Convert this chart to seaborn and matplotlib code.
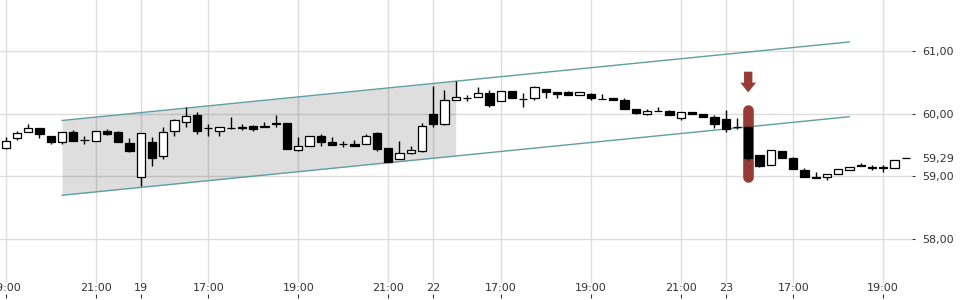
import numpy as np
import pandas as pd
import matplotlib
matplotlib.use("Agg")
import matplotlib.pyplot as plt
import matplotlib.transforms as mtransforms
from matplotlib.ticker import FuncFormatter
import seaborn as sns

# ---------------- data ----------------
# trading sessions: date, first 15-min bar, number of bars
session_dates = ["2024-04-18", "2024-04-19", "2024-04-22", "2024-04-23"]
session_starts = ["19:00", "15:30", "15:30", "15:30"]
session_bars = [12, 26, 26, 17]

opens = [59.45, 59.61, 59.70, 59.77, 59.65, 59.54, 59.70, 59.58, 59.57, 59.73,
         59.71, 59.53, 58.99, 59.55, 59.32, 59.73, 59.86, 59.97, 59.77, 59.73,
         59.77, 59.78, 59.80, 59.78, 59.85, 59.85, 59.42, 59.48, 59.65, 59.54,
         59.52, 59.52, 59.51, 59.69, 59.45, 59.27, 59.38, 59.40, 59.99, 59.84,
         60.21, 60.25, 60.26, 60.32, 60.20, 60.36, 60.23, 60.24, 60.39, 60.34,
         60.34, 60.29, 60.31, 60.23, 60.24, 60.21, 60.08, 60.00, 60.04, 60.04,
         59.93, 60.03, 59.99, 59.95, 59.91, 59.78, 59.79, 59.34, 59.18, 59.41,
         59.29, 59.10, 58.99, 58.99, 59.04, 59.10, 59.18, 59.15, 59.15, 59.14,
         59.29]
highs = [59.62, 59.72, 59.83, 59.77, 59.65, 59.70, 59.74, 59.65, 59.73, 59.75,
         59.72, 59.61, 59.69, 59.63, 59.78, 59.92, 60.10, 60.02, 59.84, 59.78,
         59.94, 59.83, 59.82, 59.86, 59.97, 59.85, 59.62, 59.64, 59.67, 59.63,
         59.57, 59.58, 59.68, 59.70, 59.45, 59.56, 59.48, 59.85, 60.44, 60.38,
         60.52, 60.30, 60.42, 60.37, 60.36, 60.36, 60.33, 60.44, 60.39, 60.34,
         60.36, 60.35, 60.32, 60.31, 60.24, 60.24, 60.08, 60.08, 60.10, 60.06,
         60.02, 60.03, 60.00, 59.98, 60.06, 59.93, 59.81, 59.34, 59.42, 59.41,
         59.31, 59.14, 59.07, 59.04, 59.11, 59.15, 59.21, 59.18, 59.18, 59.26,
         59.29]
lows = [59.43, 59.58, 59.70, 59.61, 59.52, 59.52, 59.57, 59.52, 59.57, 59.66,
        59.54, 59.39, 58.85, 59.16, 59.28, 59.65, 59.79, 59.68, 59.65, 59.65,
        59.75, 59.74, 59.73, 59.78, 59.78, 59.44, 59.41, 59.48, 59.49, 59.50,
        59.47, 59.49, 59.51, 59.41, 59.23, 59.27, 59.36, 59.39, 59.78, 59.82,
        60.21, 60.20, 60.26, 60.11, 60.20, 60.24, 60.11, 60.21, 60.24, 60.24,
        60.29, 60.29, 60.21, 60.23, 60.21, 60.08, 60.00, 59.98, 60.04, 59.97,
        59.89, 59.99, 59.95, 59.77, 59.70, 59.75, 59.26, 59.15, 59.18, 59.30,
        59.11, 58.99, 58.97, 58.95, 59.04, 59.10, 59.16, 59.10, 59.07, 59.14,
        59.29]
closes = [59.57, 59.69, 59.77, 59.68, 59.55, 59.70, 59.57, 59.58, 59.73, 59.68,
          59.54, 59.41, 59.69, 59.30, 59.70, 59.89, 59.96, 59.73, 59.77, 59.78,
          59.77, 59.77, 59.76, 59.81, 59.83, 59.44, 59.48, 59.64, 59.54, 59.50,
          59.51, 59.49, 59.65, 59.43, 59.23, 59.38, 59.42, 59.80, 59.84, 60.21,
          60.27, 60.25, 60.32, 60.13, 60.36, 60.24, 60.23, 60.42, 60.35, 60.31,
          60.29, 60.35, 60.24, 60.23, 60.21, 60.08, 60.01, 60.04, 60.04, 59.97,
          60.02, 59.99, 59.95, 59.83, 59.76, 59.78, 59.30, 59.17, 59.42, 59.30,
          59.11, 58.99, 58.97, 59.04, 59.11, 59.15, 59.16, 59.14, 59.13, 59.26,
          59.29]

# trend channel (bar index, price) and shaded part
channel_idx = [5, 75]
channel_upper = [59.89, 61.14]
channel_lower = [58.70, 59.95]
shade_idx = [5, 40]

# signal bar
signal_idx = 66
signal_span = [58.906, 60.147]

y_ticks = [58.0, 59.0, 59.29, 60.0, 61.0]
last_price = 59.29

# ---------------- build frame ----------------
times = pd.DatetimeIndex(np.concatenate([
    pd.date_range(f"{d} {s}", periods=n, freq="15min").values
    for d, s, n in zip(session_dates, session_starts, session_bars)]))
df = pd.DataFrame({"time": times, "open": opens, "high": highs,
                   "low": lows, "close": closes})
df["i"] = np.arange(len(df))

tick_pos, tick_lab = [], []
for i, t in zip(df["i"], df["time"]):
    if t.hour == 15 and t.minute == 30:
        tick_pos.append(i); tick_lab.append(f"{t.day}")
    elif t.minute == 0 and t.hour in (17, 19, 21):
        tick_pos.append(i); tick_lab.append(t.strftime("%H:00"))

# ---------------- style ----------------
sns.set_theme(style="white")
plt.rcParams["font.family"] = ["DejaVu Sans"]
text_color = "#333333"
grid_color = "#dddddd"

fig = plt.figure(figsize=(9.6, 3.0), dpi=100)
ax = fig.add_axes([0, 17 / 300, 912 / 960, 283 / 300])

ax.set_xlim(-0.51, 80.56)
ax.set_ylim(57.304, 61.807)

ax.grid(True, color=grid_color, lw=1.0, zorder=0)
for s in ax.spines.values():
    s.set_visible(False)

# shaded channel part
xs = np.linspace(shade_idx[0], shade_idx[1], 50)
up_line = np.interp(xs, channel_idx, channel_upper)
lo_line = np.interp(xs, channel_idx, channel_lower)
ax.fill_between(xs, lo_line, up_line, color="black", alpha=0.13, lw=0, zorder=1)

# channel lines
chan = pd.DataFrame({"i": channel_idx * 2,
                     "price": channel_upper + channel_lower,
                     "line": ["upper"] * 2 + ["lower"] * 2})
sns.lineplot(data=chan, x="i", y="price", units="line", estimator=None,
             color="#5e9fa1", lw=1.0, ax=ax, zorder=2)

# signal marker
sig_color = "#993b35"
rad = 5.3 / 62.85
ax.plot([signal_idx, signal_idx], [signal_span[0] + rad, signal_span[1] - rad],
        color=sig_color, lw=10.6 * 0.72, solid_capstyle="round", zorder=2.5)
tip_tr = mtransforms.offset_copy(ax.transData, fig=fig, y=8.6, units="points")
tail_tr = mtransforms.offset_copy(ax.transData, fig=fig, y=23.5, units="points")
ax.annotate("", xy=(signal_idx, signal_span[1]), xycoords=tip_tr,
            xytext=(signal_idx, signal_span[1]), textcoords=tail_tr,
            arrowprops=dict(arrowstyle="simple,head_length=0.7,head_width=1.13,tail_width=0.6",
                            mutation_scale=10, color=sig_color, lw=0,
                            shrinkA=0, shrinkB=0), zorder=3)

# candles
o = df["open"].to_numpy(); c = df["close"].to_numpy()
up = c >= o
ax.vlines(df["i"], df["low"], df["high"], color="black", lw=1.0, zorder=3)
ax.bar(df["i"], np.abs(c - o), bottom=np.minimum(o, c), width=0.74,
       color=np.where(up, "white", "black"), edgecolor="black",
       linewidth=0.9, zorder=4)

# axes ticks
ax.set_xticks(tick_pos)
ax.set_xticklabels(tick_lab)
ax.tick_params(axis="x", length=0, pad=0, labelsize=8, labelcolor=text_color)
sec = ax.secondary_xaxis(-11 / 283)
sec.set_xticks(tick_pos)
sec.tick_params(axis="x", direction="out", length=3, width=0.8, color=text_color,
                labelbottom=False)
for s in sec.spines.values():
    s.set_visible(False)

ax.yaxis.tick_right()
ax.set_yticks(y_ticks)
ax.yaxis.set_major_formatter(FuncFormatter(lambda v, _: f"{v:.2f}".replace(".", ",")))
ax.tick_params(axis="y", right=True, length=2.5, width=0.8, color=text_color,
               pad=5, labelsize=8, labelcolor=text_color)
for t, v in zip(ax.yaxis.get_major_ticks(), y_ticks):
    if abs(v - last_price) < 1e-9:
        t.tick2line.set_visible(False)
        t.gridline.set_visible(False)

ax.set_xlabel(""); ax.set_ylabel("")
fig.savefig("out.png", dpi=100)
